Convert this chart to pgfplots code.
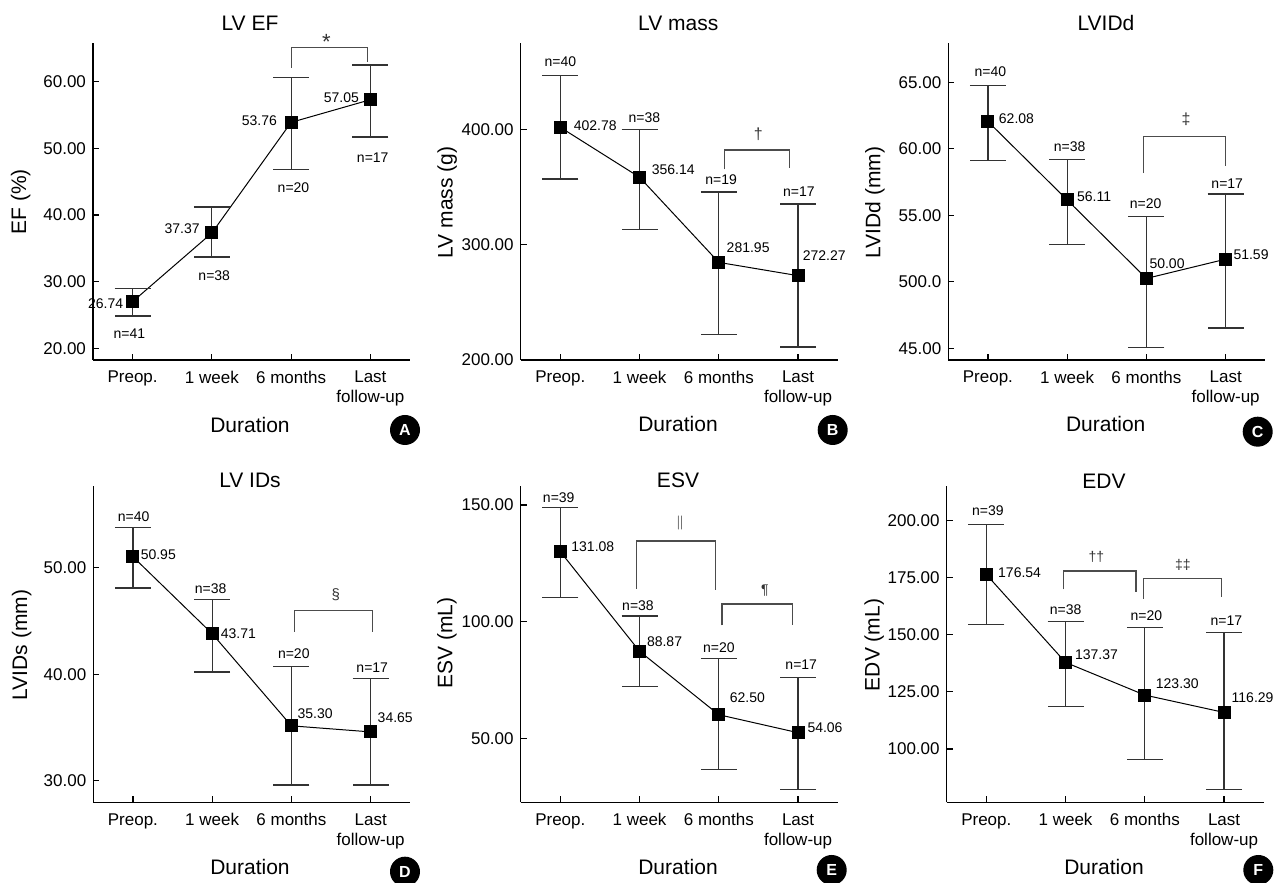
\documentclass[border=0pt]{standalone}
\usepackage{fontspec}
\setmainfont{Liberation Sans}
\usepackage{pgfplots}
\pgfplotsset{compat=1.18}
\pgfplotsset{
  panel/.style={
    scale only axis, width=158.5pt, height=158.5pt, anchor=south west,
    axis x line=bottom, axis y line=left,
    axis line style={-, line width=0.7pt, black},
    xmin=-0.5, xmax=3.5, xtick={0,1,2,3},
    xticklabels={Preop., 1 week, 6 months, {Last\\follow-up}},
    xticklabel style={font=\fontsize{8.5}{10}\selectfont, align=center, yshift=-2pt},
    yticklabel style={font=\fontsize{8.5}{10}\selectfont},
    tick align=inside, major tick length=3pt,
    tick style={black, line width=0.6pt},
    clip=false,
  },
  ser/.style={black, line width=0.5pt, mark=square*, mark size=3pt,
    mark options={solid, fill=black, draw=black},
    error bars/y dir=both, error bars/y explicit,
    error bars/error bar style={line width=0.6pt, black!80},
    error bars/error mark=|,
    error bars/error mark options={line width=0.6pt, black!80, mark size=9pt}},
}
\newcommand\vl[3]{\node[font=\fontsize{7}{8}\selectfont, inner sep=0pt] at (axis cs:#1,#2) {#3};}
\newcommand\br[5]{\draw[black!70, line width=0.6pt] (axis cs:#1,#2) -- (axis cs:#1,#3) -- (axis cs:#4,#3) -- (axis cs:#4,#5);}
\newcommand\sym[4]{\node[font=\fontsize{#4}{#4}\selectfont, inner sep=0pt, black!80] at (axis cs:#1,#2) {#3};}
\newcommand\pcirc[3]{\node[circle, fill=black, minimum size=15pt, inner sep=0pt, text=white, font=\bfseries\fontsize{8}{8}\selectfont] at (#1,#2) {#3};}
\begin{document}
\begin{tikzpicture}
\path[use as bounding box] (0,0) rectangle (640.5pt,441.5pt);

% ---------- A ----------
\begin{axis}[panel, at={(46.5pt,261.5pt)}, ymin=18.24, ymax=65.81,
  ytick={20,30,40,50,60}, yticklabels={20.00,30.00,40.00,50.00,60.00}]
\addplot[ser] table[x=x,y=y,y error plus=ep,y error minus=em]{
x y ep em
0 27.0 2.0 2.15
1 37.3 3.9 3.6
2 53.9 6.76 7.1
3 57.3 5.2 5.6
};
\vl{-0.34}{26.76}{26.74}
\vl{0.625}{37.87}{37.37}
\vl{1.60}{54.13}{53.76}
\vl{2.635}{57.54}{57.05}
\vl{-0.04}{22.25}{n=41}
\vl{1.03}{30.86}{n=38}
\vl{2.03}{44.1}{n=20}
\vl{3.03}{48.6}{n=17}
\br{2}{62.1}{65.1}{2.967}{63.0}
\node[font=\fontsize{11}{11}\selectfont, inner sep=0pt, anchor=base, black!80] at (axis cs:2.445,64.9) {*};
\end{axis}

% ---------- B ----------
\begin{axis}[panel, at={(260.35pt,261.5pt)}, ymin=200, ymax=474.8,
  ytick={200,300,400}, yticklabels={200.00,300.00,400.00}]
\addplot[ser] table[x=x,y=y,y error plus=ep,y error minus=em]{
x y ep em
0 401.7 44.8 44.8
1 358.4 41.3 45.4
2 284.6 61.0 62.7
3 273.1 62.1 61.8
};
\vl{0.44}{403.5}{402.78}
\vl{1.425}{365}{356.14}
\vl{2.37}{297.1}{281.95}
\vl{3.33}{290.5}{272.27}
\vl{0.0}{458.5}{n=40}
\vl{1.06}{410.4}{n=38}
\vl{2.03}{356.4}{n=19}
\vl{3.01}{345.7}{n=17}
\br{2.075}{365.3}{382}{2.89}{366.7}
\sym{2.5}{395.4}{†}{8}
\end{axis}

% ---------- C ----------
\begin{axis}[panel, at={(474.15pt,261.5pt)}, ymin=44.12, ymax=67.95,
  ytick={45,50,55,60,65}, yticklabels={45.00,500.0,55.00,60.00,65.00}]
\addplot[ser] table[x=x,y=y,y error plus=ep,y error minus=em]{
x y ep em
0 62.05 2.73 2.91
1 56.15 3.05 3.33
2 50.25 4.65 5.2
3 51.7 4.9 5.18
};
\vl{0.36}{62.23}{62.08}
\vl{1.34}{56.39}{56.11}
\vl{2.26}{51.33}{50.00}
\vl{3.32}{52.03}{51.59}
\vl{0.03}{65.79}{n=40}
\vl{1.03}{60.15}{n=38}
\vl{1.99}{55.84}{n=20}
\vl{3.02}{57.39}{n=17}
\br{1.96}{58.17}{60.95}{3.0}{58.7}
\sym{2.5}{62.18}{‡}{8}
\end{axis}

% ---------- D ----------
\begin{axis}[panel, at={(46.65pt,40.35pt)}, height=158.3pt, ymin=27.97, ymax=57.7,
  ytick={30,40,50}, yticklabels={30.00,40.00,50.00}]
\addplot[ser] table[x=x,y=y,y error plus=ep,y error minus=em]{
x y ep em
0 51.03 2.77 2.93
1 43.8 3.24 3.6
2 35.15 5.55 5.55
3 34.58 5.02 4.98
};
\vl{0.32}{51.2}{50.95}
\vl{1.33}{43.81}{43.71}
\vl{2.30}{36.3}{35.30}
\vl{3.31}{35.87}{34.65}
\vl{0.01}{54.77}{n=40}
\vl{0.98}{48.04}{n=38}
\vl{2.03}{41.94}{n=20}
\vl{3.02}{40.62}{n=17}
\br{2.04}{43.97}{46.0}{3.02}{43.97}
\sym{2.56}{47.5}{§}{7.5}
\end{axis}

% ---------- E ----------
\begin{axis}[panel, at={(260.35pt,40.35pt)}, height=158.3pt, ymin=22.57, ymax=158.27,
  ytick={50,100,150}, yticklabels={50.00,100.00,150.00}]
\addplot[ser] table[x=x,y=y,y error plus=ep,y error minus=em]{
x y ep em
0 130.0 18.9 19.6
1 87.3 15.1 15.0
2 60.1 24.0 23.5
3 52.4 23.6 24.3
};
\vl{0.41}{132.3}{131.08}
\vl{1.315}{91.56}{88.87}
\vl{2.36}{67.3}{62.50}
\vl{3.34}{54.44}{54.06}
\vl{-0.02}{153.3}{n=39}
\vl{0.98}{107.0}{n=38}
\vl{2.0}{89.0}{n=20}
\vl{3.04}{81.6}{n=17}
\br{0.96}{114.1}{134.6}{1.955}{113.7}
\sym{1.51}{142.3}{$\|$}{7}
\br{2.04}{98.4}{107.6}{2.93}{98.4}
\sym{2.58}{113.4}{¶}{7}
\end{axis}

% ---------- F ----------
\begin{axis}[panel, at={(473.35pt,40.35pt)}, height=158.3pt, ymin=76.65, ymax=215.3,
  ytick={100,125,150,175,200}, yticklabels={100.00,125.00,150.00,175.00,200.00}]
\addplot[ser] table[x=x,y=y,y error plus=ep,y error minus=em]{
x y ep em
0 176.4 21.8 22.0
1 137.9 17.8 19.3
2 123.6 29.6 28.2
3 116.0 35.0 33.9
};
\vl{0.42}{177.1}{176.54}
\vl{1.39}{141.4}{137.37}
\vl{2.41}{128.7}{123.30}
\vl{3.36}{122.4}{116.29}
\vl{0.02}{204.2}{n=39}
\vl{1.0}{160.8}{n=38}
\vl{2.02}{158.3}{n=20}
\vl{3.03}{156.0}{n=17}
\br{0.973}{169.9}{177.9}{1.888}{168.7}
\sym{1.39}{184.1}{††}{7}
\br{1.98}{165.8}{174.8}{2.97}{166.5}
\sym{2.48}{180.8}{‡‡}{7}
\end{axis}

% ---------- titles ----------
\begin{scope}[every node/.style={font=\fontsize{10.5}{12}\selectfont, inner sep=0pt}]
\node at (125pt,429.85pt) {LV EF};
\node at (339.15pt,430pt) {LV mass};
\node at (553pt,430pt) {LVIDd};
\node at (125pt,201.15pt) {LV IDs};
\node at (339pt,201.15pt) {ESV};
\node at (552pt,201pt) {EDV};
\node at (125pt,229pt) {Duration};
\node at (339pt,229.5pt) {Duration};
\node at (552.85pt,229.5pt) {Duration};
\node at (125pt,8.15pt) {Duration};
\node at (339pt,8.15pt) {Duration};
\node at (552pt,8.15pt) {Duration};
\node[rotate=90] at (10.35pt,340.65pt) {EF (\%)};
\node[rotate=90] at (223.6pt,340.3pt) {LV mass (g)};
\node[rotate=90] at (437.5pt,340.25pt) {LVIDd (mm)};
\node[rotate=90] at (10.85pt,119pt) {LVIDs (mm)};
\node[rotate=90] at (223.5pt,120pt) {ESV (mL)};
\node[rotate=90] at (437.1pt,119pt) {EDV (mL)};
\end{scope}
\pcirc{202.5pt}{226.5pt}{A}
\pcirc{416.35pt}{226.5pt}{B}
\pcirc{628.85pt}{225.65pt}{C}
\pcirc{202.5pt}{5.65pt}{D}
\pcirc{415.85pt}{6.5pt}{E}
\pcirc{629.15pt}{6.5pt}{F}
\end{tikzpicture}
\end{document}
